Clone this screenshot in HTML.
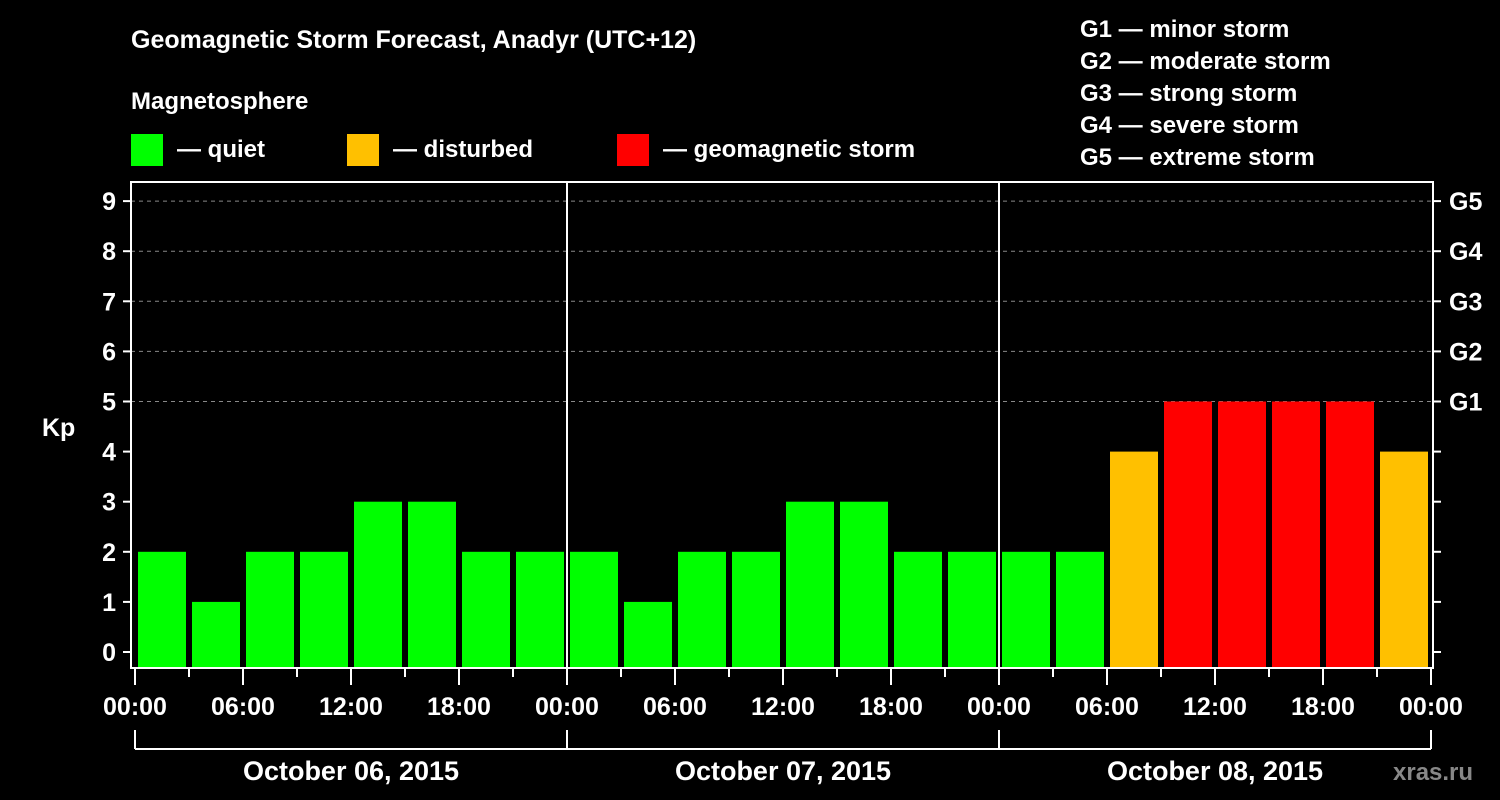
<!DOCTYPE html>
<html><head><meta charset="utf-8"><style>
html,body{margin:0;padding:0;background:#000;}
svg{display:block;font-family:"Liberation Sans",Arial,sans-serif;font-weight:bold;}
</style></head><body>
<svg width="1500" height="800" viewBox="0 0 1500 800">
<rect width="1500" height="800" fill="#000"/>
<text x="131" y="48" fill="#fff" font-size="25">Geomagnetic Storm Forecast, Anadyr (UTC+12)</text>
<text x="131" y="109" fill="#fff" font-size="24">Magnetosphere</text>
<g><rect x="131" y="134" width="32" height="32" fill="#00ff00"/><text x="177" y="157" fill="#fff" font-size="24">— quiet</text></g>
<g><rect x="347" y="134" width="32" height="32" fill="#ffc000"/><text x="393" y="157" fill="#fff" font-size="24">— disturbed</text></g>
<g><rect x="617" y="134" width="32" height="32" fill="#ff0000"/><text x="663" y="157" fill="#fff" font-size="24">— geomagnetic storm</text></g>
<g fill="#fff" font-size="24">
<text x="1080" y="37">G1 — minor storm</text>
<text x="1080" y="69">G2 — moderate storm</text>
<text x="1080" y="101">G3 — strong storm</text>
<text x="1080" y="133">G4 — severe storm</text>
<text x="1080" y="165">G5 — extreme storm</text>
</g>
<text x="42" y="436" fill="#fff" font-size="25">Kp</text>
<text x="1393" y="780" fill="#888" font-size="24">xras.ru</text>
<g id="grid"></g>
<g id="bars"></g>
<g id="axes"></g>
</svg>
<script>
const values = [2,1,2,2,3,3,2,2, 2,1,2,2,3,3,2,2, 2,2,4,5,5,5,5,4];
const yTicks = [0,1,2,3,4,5,6,7,8,9];
const gLabels = ["G1","G2","G3","G4","G5"];
const hourLabels = ["00:00","06:00","12:00","18:00"];
const dayLabels = ["October 06, 2015","October 07, 2015","October 08, 2015"];

const NS="http://www.w3.org/2000/svg";
const x0=135, dayW=432, slotW=dayW/8, yZero=652, unit=50.1, plotTop=182, plotBot=668, plotL=131, plotR=1433;
const xPos=i=>x0+i*slotW;
const yPos=v=>yZero-v*unit;
function mk(tag,attrs,parent){const e=document.createElementNS(NS,tag);for(const k in attrs)e.setAttribute(k,attrs[k]);document.getElementById(parent).appendChild(e);return e;}
function color(v){return v>=5?"#ff0000":v>=4?"#ffc000":"#00ff00";}

yTicks.forEach(t=>{ if(t>=5){
  const l=mk("line",{x1:plotL,x2:plotR,y1:yPos(t),y2:yPos(t),stroke:"#888","stroke-dasharray":"4,4","stroke-width":1},"grid");
  
  
}});

values.forEach((v,i)=>{
  const r=mk("rect",{x:xPos(i)+3,y:yPos(v),width:slotW-6,height:667-yPos(v),fill:color(v)},"bars");
  
  
});

// frame
const fr=mk("rect",{x:plotL,y:plotTop,width:plotR-plotL,height:plotBot-plotTop,fill:"none",stroke:"#fff","stroke-width":2},"axes");


[1,2].forEach(d=>{
  const l=mk("line",{x1:x0+d*dayW,x2:x0+d*dayW,y1:plotTop,y2:plotBot,stroke:"#fff","stroke-width":2},"axes");
  
  
});
yTicks.forEach(t=>{
  const y=yPos(t);
  const a=mk("line",{x1:123,x2:plotL,y1:y,y2:y,stroke:"#fff","stroke-width":2},"axes");
  
  
  const b=mk("line",{x1:plotR,x2:1441,y1:y,y2:y,stroke:"#fff","stroke-width":2},"axes");
  
  
  const tx=mk("text",{x:116,y:y+9,fill:"#fff","font-size":25,"text-anchor":"end"},"axes");
  tx.textContent=t;
  
  
});
gLabels.forEach((g,i)=>{
  const tx=mk("text",{x:1449,y:yPos(5+i)+9,fill:"#fff","font-size":25},"axes");
  tx.textContent=g;
  
  
});
for(let i=0;i<=24;i++){
  const x=xPos(i), major=i%2===0;
  const l=mk("line",{x1:x,x2:x,y1:plotBot,y2:major?685:677,stroke:"#fff","stroke-width":2},"axes");
  
  
  if(major){
    const tx=mk("text",{x:x,y:715,fill:"#fff","font-size":25,"text-anchor":"middle"},"axes");
    tx.textContent=hourLabels[(i/2)%4];
    
    
  }
}
const br=mk("line",{x1:x0,x2:x0+3*dayW,y1:749,y2:749,stroke:"#fff","stroke-width":2},"axes");


for(let d=0;d<=3;d++){
  const l=mk("line",{x1:x0+d*dayW,x2:x0+d*dayW,y1:730,y2:749,stroke:"#fff","stroke-width":2},"axes");
  
  
}
dayLabels.forEach((d,i)=>{
  const tx=mk("text",{x:x0+(i+0.5)*dayW,y:780,fill:"#fff","font-size":27,"text-anchor":"middle"},"axes");
  tx.textContent=d;
  
  
});
</script>
</body></html>
